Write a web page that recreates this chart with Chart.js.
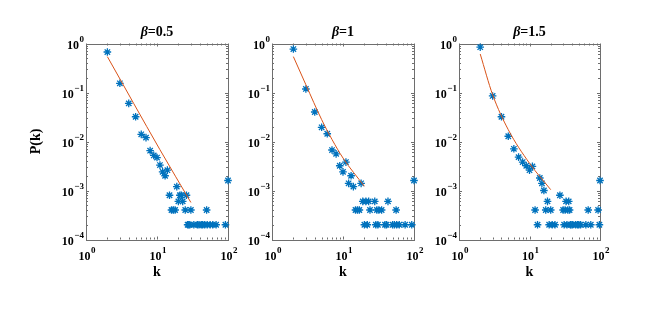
<!DOCTYPE html>
<html>
<head>
<meta charset="utf-8">
<script src="https://cdn.jsdelivr.net/npm/chart.js@4.4.1/dist/chart.umd.min.js"></script>
<style>
    html, body { margin: 0; padding: 0; background: #fff; }
    #wrap { position: relative; width: 664px; height: 320px; }
    #wrap canvas { position: absolute; left: 0; top: 0; }
</style>
</head>
<body>
<div id="wrap">
    <canvas id="c1" width="664" height="320"></canvas>
    <canvas id="c2" width="664" height="320"></canvas>
    <canvas id="c3" width="664" height="320"></canvas>
</div>
<script>
// beta = 0.5 : degree k and probability P(k)
const k05 = [2, 3, 4, 5, 6, 7, 8, 9, 10, 11, 12, 13, 14, 15, 16, 17, 18, 19, 20, 21, 22, 23, 25, 26, 27, 28, 29, 30,
    33, 37, 39, 42, 44, 47, 50, 51, 56, 61, 68, 92, 100];
const p05 = [0.67, 0.154, 0.060, 0.032, 0.014, 0.012, 0.0065, 0.0052, 0.0047, 0.0033, 0.0024, 0.0020, 0.0026, 0.0008,
    0.0004, 0.0004, 0.0004, 0.0012, 0.0006, 0.0008, 0.0008, 0.0006, 0.0004, 0.0008, 0.0002, 0.0002, 0.0002, 0.0004,
    0.0002, 0.0002, 0.0002, 0.0002, 0.0002, 0.0002, 0.0004, 0.0002, 0.0002, 0.0002, 0.0002, 0.0002, 0.0016];
const fitK05 = [2, 11, 30];
const fitP05 = [0.54, 0.0068, 0.00057];

// beta = 1
const k10 = [2, 3, 4, 5, 6, 7, 8, 9, 10, 11, 12, 13, 14, 15, 16, 17, 18, 19, 20, 21, 22, 23, 24, 28, 29, 30, 31, 32,
    35, 39, 41, 43, 50, 53, 56, 57, 62, 75, 93, 100];
const p10 = [0.77, 0.118, 0.040, 0.0195, 0.0144, 0.0067, 0.0056, 0.0032, 0.0024, 0.0038, 0.0014, 0.0020, 0.0012,
    0.0004, 0.0004, 0.0004, 0.0014, 0.0006, 0.0002, 0.0006, 0.0002, 0.0006, 0.0004, 0.0006, 0.0002, 0.0004, 0.0002,
    0.0004, 0.0004, 0.0002, 0.0002, 0.0006, 0.0002, 0.0002, 0.0004, 0.0002, 0.0002, 0.0002, 0.0002, 0.0016];
const fitK10 = [2, 3, 5, 7, 10, 20];
const fitP10 = [0.54, 0.144, 0.028, 0.011, 0.0046, 0.00122];

// beta = 1.5
const k15 = [2, 3, 4, 5, 6, 7, 8, 9, 10, 11, 12, 13, 14, 15, 16, 17, 18, 19, 20, 21, 23, 27, 30, 31, 32, 33, 34, 35,
    36, 37, 38, 39, 41, 45, 48, 50, 53, 63, 68, 74, 94, 98, 100];
const p15 = [0.84, 0.085, 0.032, 0.0128, 0.0071, 0.0048, 0.0038, 0.0032, 0.0026, 0.0031, 0.0004, 0.0002, 0.0018,
    0.0014, 0.0010, 0.0004, 0.0006, 0.0002, 0.0004, 0.0002, 0.0002, 0.0008, 0.0004, 0.0002, 0.0004, 0.0006, 0.0002,
    0.0004, 0.0006, 0.0004, 0.0002, 0.0002, 0.0002, 0.0002, 0.0002, 0.0002, 0.0002, 0.0002, 0.0004, 0.0002, 0.0004,
    0.0002, 0.0016];
const fitK15 = [2, 3, 5, 10, 20];
const fitP15 = [0.61, 0.090, 0.0174, 0.0036, 0.00104];

const xTickExps = [0, 1, 2];
const yTickExps = [0, -1, -2, -3, -4];

const SERIF = "'Liberation Serif', 'Times New Roman', serif";
const BLUE = '#0072BD';
const ORANGE = '#D95319';

function toPoints(xs, ys) {
    return xs.map((v, i) => ({ x: v, y: ys[i] }));
}

// draws "10" with a raised exponent; align = 'right' or 'center'
function drawPow(ctx, exp, px, py, align) {
    const base = '10';
    const sup = String(exp).replace('-', '\u2212');
    ctx.font = 'bold 12px ' + SERIF;
    const wb = ctx.measureText(base).width;
    ctx.font = 'bold 9px ' + SERIF;
    const ws = ctx.measureText(sup).width;
    const total = wb + 0.5 + ws;
    let x0 = align === 'right' ? px - total : px - total / 2;
    ctx.textAlign = 'left';
    ctx.textBaseline = 'alphabetic';
    ctx.font = 'bold 12px ' + SERIF;
    ctx.fillText(base, x0, py + 5);
    ctx.font = 'bold 9px ' + SERIF;
    ctx.fillText(sup, x0 + wb + 0.5, py - 1.5);
}

/* --- MATLAB STYLE BOX, TICKS AND LABELS --- */
const axesPlugin = {
    id: 'matlabAxes',
    beforeDatasetsDraw(chart) {
        const { ctx, chartArea: a, scales: { x, y } } = chart;
        ctx.save();
        ctx.strokeStyle = '#6e6e6e';
        ctx.lineWidth = 1;
        ctx.strokeRect(Math.round(a.left) + 0.5, Math.round(a.top) + 0.5,
            Math.round(a.right - a.left), Math.round(a.bottom - a.top));
        ctx.beginPath();
        for (let e = 0; e <= 2; e++) {
            for (let m = 1; m <= 9; m++) {
                const v = m * Math.pow(10, e);
                if (v > 100) break;
                const px = Math.round(x.getPixelForValue(v)) + 0.5;
                const len = m === 1 ? 3 : 2;
                ctx.moveTo(px, a.bottom); ctx.lineTo(px, a.bottom - len);
                ctx.moveTo(px, a.top); ctx.lineTo(px, a.top + len);
            }
        }
        for (let e = -4; e <= 0; e++) {
            for (let m = 1; m <= 9; m++) {
                const v = m * Math.pow(10, e);
                if (v > 1) break;
                const py = Math.round(y.getPixelForValue(v)) + 0.5;
                const len = m === 1 ? 3 : 2;
                ctx.moveTo(a.left, py); ctx.lineTo(a.left + len, py);
                ctx.moveTo(a.right, py); ctx.lineTo(a.right - len, py);
            }
        }
        ctx.stroke();
        ctx.restore();
    },
    afterDraw(chart, args, opts) {
        const { ctx, chartArea: a, scales: { x, y } } = chart;
        const cx = (a.left + a.right) / 2;
        ctx.save();
        ctx.fillStyle = '#000';
        yTickExps.forEach(e => drawPow(ctx, e, a.left - 2, y.getPixelForValue(Math.pow(10, e)), 'right'));
        xTickExps.forEach(e => drawPow(ctx, e, x.getPixelForValue(Math.pow(10, e)) + 1, a.bottom + 15, 'center'));

        // x label
        ctx.font = 'bold 14px ' + SERIF;
        ctx.textAlign = 'center';
        ctx.textBaseline = 'alphabetic';
        ctx.fillText('k', cx, a.bottom + 36.5);

        // title: italic beta + value
        ctx.font = 'italic bold 14px ' + SERIF;
        const wBeta = ctx.measureText('\u03B2').width;
        ctx.font = 'bold 14px ' + SERIF;
        const rest = '=' + opts.beta;
        const wRest = ctx.measureText(rest).width;
        let tx = cx - (wBeta + wRest) / 2;
        ctx.textAlign = 'left';
        ctx.font = 'italic bold 14px ' + SERIF;
        ctx.fillText('\u03B2', tx, a.top - 7.5);
        ctx.font = 'bold 14px ' + SERIF;
        ctx.fillText(rest, tx + wBeta, a.top - 7.5);

        if (opts.yLabel) {
            ctx.translate(a.left - 46, (a.top + a.bottom) / 2);
            ctx.rotate(-Math.PI / 2);
            ctx.textAlign = 'center';
            ctx.font = 'bold 14px ' + SERIF;
            ctx.fillText('P(k)', 0, 0);
        }
        ctx.restore();
    }
};

const panels = [
    { id: 'c1', beta: '0.5', left: 86, right: 228, k: k05, p: p05, fitK: fitK05, fitP: fitP05, yLabel: true },
    { id: 'c2', beta: '1', left: 272, right: 414, k: k10, p: p10, fitK: fitK10, fitP: fitP10, yLabel: false },
    { id: 'c3', beta: '1.5', left: 459, right: 600, k: k15, p: p15, fitK: fitK15, fitP: fitP15, yLabel: false }
];

panels.forEach(pn => {
    new Chart(document.getElementById(pn.id), {
        type: 'scatter',
        data: {
            datasets: [
                {
                    data: toPoints(pn.fitK, pn.fitP),
                    showLine: true,
                    borderColor: ORANGE,
                    borderWidth: 1,
                    pointRadius: 0,
                    cubicInterpolationMode: 'monotone',
                    clip: false
                },
                {
                    data: toPoints(pn.k, pn.p),
                    pointStyle: 'star',
                    pointRadius: 3.8,
                    borderColor: BLUE,
                    backgroundColor: BLUE,
                    borderWidth: 1.3,
                    clip: false
                }
            ]
        },
        options: {
            responsive: false,
            animation: false,
            events: [],
            layout: { padding: { left: pn.left, right: 664 - pn.right, top: 43.5, bottom: 320 - 239.5 } },
            scales: {
                x: { type: 'logarithmic', min: 1, max: 100, display: false },
                y: { type: 'logarithmic', min: 0.0001, max: 1, display: false }
            },
            plugins: {
                legend: { display: false },
                tooltip: { enabled: false },
                matlabAxes: { beta: pn.beta, yLabel: pn.yLabel }
            }
        },
        plugins: [axesPlugin]
    });
});
</script>
</body>
</html>
